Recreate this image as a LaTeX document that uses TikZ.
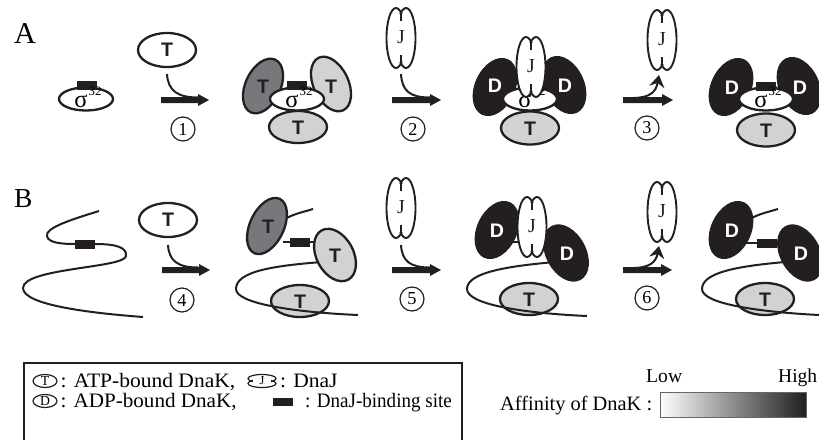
\documentclass[tikz,border=0pt]{standalone}
\usepackage{fontspec}
\usepackage{graphicx}
\setmainfont{Liberation Serif}
\newfontfamily\hv{Liberation Sans}
\usetikzlibrary{arrows.meta}
\definecolor{blk}{HTML}{231F20}
\definecolor{lg}{HTML}{D0D2D3}
\definecolor{dg}{HTML}{77787B}
\tikzset{
  ol/.style={line width=2.3pt, draw=blk},
  strand/.style={line width=2pt, draw=blk},
  jl/.style={line width=1.9pt, draw=blk},
  tt/.style={font=\hv\bfseries, text=blk, inner sep=0pt},
  dd/.style={font=\hv\bfseries, text=white, inner sep=0pt},
  jtxt/.style={text=blk, inner sep=0pt},
  numc/.style={circle, draw=blk, line width=1.2pt, minimum size=24pt, inner sep=0pt},
  lab/.style={inner sep=0pt, anchor=base west},
  lgt/.style={inner sep=0pt, anchor=base west},
  curv/.style={line width=2pt, draw=blk},
}
\newcommand\hT{\resizebox{!}{13.5pt}{T}}
\newcommand\hD{\resizebox{!}{13.5pt}{D}}
\newcommand\dig[1]{\resizebox{!}{12pt}{#1}}
\newcommand\legtxt[2]{\scalebox{#1}[1]{\fontsize{20.5}{20.5}\selectfont #2}}
% rotated ellipse: x y angle a b fill
\newcommand\kel[6]{\draw[ol, fill=#6, rotate around={#3:(#1,#2)}] (#1,#2) ellipse (#4pt and #5pt);}
\newcommand\sigel[3]{\draw[ol, fill=white] (#1,#2) ellipse (27pt and 11.5pt);}
\newcommand\sigtxt[3]{%
  \node[inner sep=0pt, anchor=base] (#3s) at ({#1-5},{#2+8.5}) {\resizebox{!}{12.5pt}{σ}};
  \node[inner sep=0pt, anchor=base] (#3n) at ({#1+9},{#2-3.5}) {\resizebox{!}{8.5pt}{32}};}
\newcommand\site[2]{\fill[blk] ({#1-10},{#2-4.5}) rectangle ({#1+10},{#2+4.5});}
% DnaJ: x y name
\newcommand\dnaJ[3]{%
  \begin{scope}[shift={(#1,#2)}]
    \fill[white] (-5,0) ellipse (9.5pt and 30pt);
    \fill[white] (5,0) ellipse (9.5pt and 30pt);
    \draw[jl] (-5,0) ellipse (9.5pt and 30pt);
    \draw[jl] (5,0) ellipse (9.5pt and 30pt);
    \fill[white] (-6.2,-24.3) rectangle (6.2,24.3);
    \draw[line width=1.5pt, draw=blk] (0,-25.5) -- (0,-17);
    \draw[line width=1.5pt, draw=blk] (0,25.5) -- (0,17);
    \node[jtxt] (#3) at (0,-0.5) {\resizebox{!}{13pt}{J}};
  \end{scope}}
% big arrow: x1 x2 y
\newcommand\bigarrow[3]{\fill[blk] (#1,{#3-3}) -- ({#2-11},{#3-3}) -- ({#2-11},{#3-6}) -- (#2,#3) -- ({#2-11},{#3+6}) -- ({#2-11},{#3+3}) -- (#1,{#3+3}) -- cycle;}
\begin{document}
\begin{tikzpicture}[x=1pt,y=-1pt]
\useasboundingbox (0,0) rectangle (819,439);

% ---------------- Row A ----------------
\node[lab] (labA) at (14,43) {\resizebox{!}{20pt}{A}};
% free sigma
\sigel{86}{99}{s0}
\site{87}{85}
\sigtxt{86}{99}{s0}
% step 1
\draw[ol, fill=white] (167,50) ellipse (29pt and 17pt);
\node[tt] (tA1) at (167,50) {\hT};
\draw[curv] (167,74) .. controls (168,91) and (178,97.5) .. (198,97.5);
\bigarrow{161}{209}{100}
\node[numc] (n1) at (183,129) {\dig{1}};
% complex A1
\kel{263}{86}{65}{29}{17.5}{dg}
\node[tt] (tA2) at (263,87) {\hT};
\kel{331}{84}{-65}{29}{17.5}{lg}
\node[tt] (tA3) at (331,87) {\hT};
\sigel{297}{99}{s1}
\site{297}{85.5}
\sigtxt{297}{99}{s1}
\draw[ol, fill=lg] (298,127) ellipse (29pt and 16pt);
\node[tt] (tA4) at (298,128) {\hT};
% step 2
\dnaJ{401}{38}{jA1}
\draw[curv] (401,74) .. controls (402,91) and (410,97.5) .. (430,97.5);
\bigarrow{392}{441}{100}
\node[numc] (n2) at (413,129) {\dig{2}};
% complex A2
\kel{495}{87}{65}{29.5}{19}{blk}
\node[dd] (dA1) at (495,86) {\hD};
\kel{564}{85}{-65}{29.5}{19}{blk}
\node[dd] (dA2) at (565,86) {\hD};
\sigel{530}{99}{s2}
\sigtxt{530}{99}{s2}
\draw[ol, fill=lg] (530,128) ellipse (29pt and 16.5pt);
\node[tt] (tA5) at (530,129) {\hT};
\dnaJ{531}{67}{jA2}
% step 3
\bigarrow{623}{673}{100}
\draw[line width=2pt, draw=blk, -{Stealth[length=12pt,width=15pt]}] (634,98) .. controls (650,97.5) and (656,92) .. (659,75);
\dnaJ{662}{40}{jA3}
\node[numc] (n3) at (647,128) {\dig{3}};
% complex A3
\kel{731}{87}{65}{29.5}{19}{blk}
\node[dd] (dA3) at (732,88) {\hD};
\kel{799}{86}{-65}{29.5}{19}{blk}
\node[dd] (dA4) at (800,88) {\hD};
\sigel{766}{99}{s3}
\site{766}{86}
\sigtxt{766}{99}{s3}
\draw[ol, fill=lg] (766,130) ellipse (29pt and 16.5pt);
\node[tt] (tA6) at (766,131) {\hT};

% ---------------- Row B ----------------
\node[lab] (labB) at (14,207) {\resizebox{!}{18pt}{B}};
% free strand
\draw[strand] (99,211) .. controls (70,220) and (45,228) .. (47,236) .. controls (48,243) and (62,244) .. (75,244) -- (95,244)
  .. controls (118,244) and (127,248) .. (126,256) .. controls (125,268) and (23,268) .. (23,288)
  .. controls (23,305) and (90,313) .. (143,317);
\site{85}{244}
% step 4
\draw[ol, fill=white] (168,220) ellipse (29pt and 17pt);
\node[tt] (tB1) at (168,220) {\hT};
\draw[curv] (168,245) .. controls (169,261) and (178,267.5) .. (198,267.5);
\bigarrow{162}{210}{270}
\node[numc] (n4) at (182,300) {\dig{4}};
% complex B1
\draw[strand] (280,222) .. controls (292,214) and (300,213) .. (313,209);
\draw[strand] (283,242) -- (322,242);
\draw[ol, fill=lg] (300,301) ellipse (29pt and 16pt);
\node[tt] (tB2) at (300,302) {\hT};
\draw[strand] (322,262) .. controls (270,266) and (236,272) .. (236,289) .. controls (236,303) and (290,312) .. (358,315);
\kel{267}{226}{65}{30}{17}{dg}
\node[tt] (tB3) at (268,227) {\hT};
\kel{335}{255}{-62}{28}{18.5}{lg}
\node[tt] (tB4) at (335,256) {\hT};
\site{300}{242.5}
% step 5
\dnaJ{401}{208}{jB1}
\draw[curv] (401,245) .. controls (402,261) and (410,267.5) .. (430,267.5);
\bigarrow{392}{441}{270}
\node[numc] (n5) at (412,299) {\dig{5}};
% complex B2
\draw[strand] (505,242) -- (525,242);
\draw[ol, fill=lg] (529,299) ellipse (29pt and 16pt);
\node[tt] (tB5) at (529,300) {\hT};
\draw[strand] (555,262) .. controls (510,266) and (467,272) .. (467,289) .. controls (467,304) and (520,313) .. (587,316);
\kel{497}{230}{65}{29.5}{19}{blk}
\node[dd] (dB1) at (497,231) {\hD};
\kel{566}{253}{-62}{29.5}{19}{blk}
\node[dd] (dB2) at (567,254) {\hD};
\dnaJ{532}{227}{jB2}
% step 6
\bigarrow{623}{672}{270}
\draw[line width=2pt, draw=blk, -{Stealth[length=12pt,width=15pt]}] (634,268) .. controls (650,267.5) and (656,262) .. (659,246);
\dnaJ{662}{212}{jB3}
\node[numc] (n6) at (647,298) {\dig{6}};
% complex B3
\draw[strand] (745,222) .. controls (757,214) and (765,213) .. (778,209);
\draw[strand] (745,243) -- (790,243);
\draw[ol, fill=lg] (765,299) ellipse (29pt and 16pt);
\node[tt] (tB6) at (765,300) {\hT};
\draw[strand] (785,262) .. controls (740,266) and (702,272) .. (702,289) .. controls (702,304) and (760,312) .. (819,315);
\kel{731}{230}{65}{29.5}{19}{blk}
\node[dd] (dB3) at (732,231) {\hD};
\kel{800}{253}{-62}{29.5}{19}{blk}
\node[dd] (dB4) at (801,254) {\hD};
\site{766.5}{243.5}

% ---------------- Legend ----------------
\draw[line width=1.5pt, draw=blk] (24,445) -- (24,363) -- (462,363) -- (462,445);
\draw[line width=1.2pt, draw=blk] (45,381) ellipse (12pt and 6.5pt);
\node[inner sep=0pt] (lT) at (45,381) {\resizebox{!}{9pt}{T}};
\node[lgt] (lt1) at (60.5,387) {\legtxt{1.05}{: ATP-bound DnaK,}};
\draw[line width=1.2pt, draw=blk] (45,401) ellipse (12pt and 6.5pt);
\node[inner sep=0pt] (lD) at (45,401) {\resizebox{!}{9pt}{D}};
\node[lgt] (lt2) at (60.5,407) {\legtxt{1.03}{: ADP-bound DnaK,}};
% small DnaJ icon
\begin{scope}[shift={(262,381)}]
  \fill[white] (0,-2.5) ellipse (14pt and 4pt);
  \fill[white] (0,2.5) ellipse (14pt and 4pt);
  \draw[line width=1.2pt, draw=blk] (0,-2.5) ellipse (14pt and 4pt);
  \draw[line width=1.2pt, draw=blk] (0,2.5) ellipse (14pt and 4pt);
  \fill[white] (-9,-2.4) rectangle (9,2.4);
  \node[inner sep=0pt] (lJ) at (0,0) {\resizebox{!}{8pt}{J}};
\end{scope}
\node[lgt] (lt3) at (280,387) {\legtxt{1.05}{: DnaJ}};
\fill[blk] (273,398) rectangle (293,406);
\node[lgt] (lt4) at (305,407) {\legtxt{0.93}{: DnaJ-binding site}};
% affinity
\node[lgt] (aff) at (500,410) {\resizebox{152pt}{!}{Affinity of DnaK :}};
\node[lgt] (low) at (646,382) {\resizebox{36pt}{!}{Low}};
\node[lgt] (high) at (778,382) {\resizebox{39pt}{!}{High}};
\shade[left color=white, right color=blk, middle color=black!45] (660,392) rectangle (806,417);
\draw[line width=0.8pt, draw=black!60] (660,392) rectangle (806,417);
\end{tikzpicture}
\end{document}
